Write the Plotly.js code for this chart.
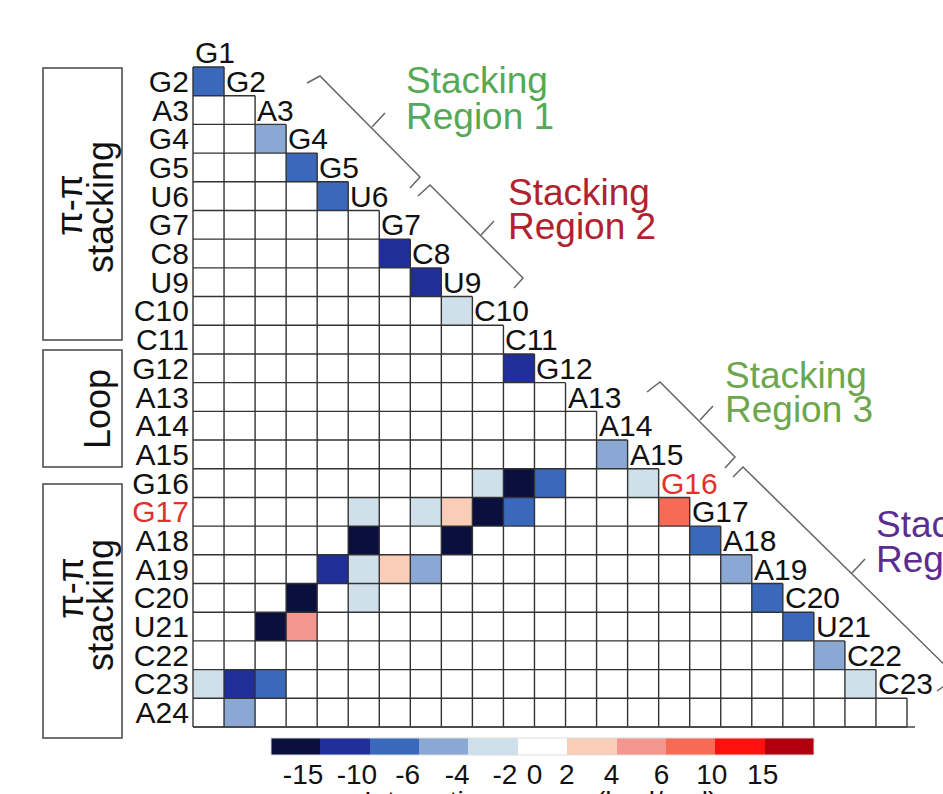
<!DOCTYPE html>
<html>
<head>
<meta charset="utf-8">
<script src="https://cdn.plot.ly/plotly-3.0.1.min.js"></script>
<style>html,body{margin:0;padding:0;background:#fff;}#chart{width:943px;height:794px;}</style>
</head>
<body>
<div id="chart"></div>
<script>
// ---------------- DATA ----------------
const columnNames = ["G1","G2","A3","G4","G5","U6","G7","C8","U9","C10","C11","G12","A13","A14","A15","G16","G17","A18","A19","C20","U21","C22","C23"];
const rowNames = ["G2","A3","G4","G5","U6","G7","C8","U9","C10","C11","G12","A13","A14","A15","G16","G17","A18","A19","C20","U21","C22","C23","A24"];
// non-zero interaction energies (kcal/mol): row, column, value
const pairRow    = ["G2","G4","G5","U6","C8","U9","C10","G12","A15","G16","G17","A18","A19","C20","U21","C22","C23",
                    "G16","G16","G16","G17","G17","G17","G17","G17","A18","A18","A19","A19","A19","A19","C20","C20","U21","U21","C23","C23","C23","A24"];
const pairCol    = ["G1","A3","G4","G5","G7","C8","U9","C11","A14","A15","G16","G17","A18","A19","C20","U21","C22",
                    "C10","C11","G12","U6","C8","U9","C10","C11","U6","U9","G5","U6","G7","C8","G4","U6","A3","G4","G1","G2","A3","G2"];
const pairEnergy = [-7.5,-4.6,-8.2,-7.9,-11.8,-12.3,-2.6,-12.5,-4.8,-2.8,7.5,-8.4,-5.1,-7.8,-8.1,-4.9,-2.5,
                    -2.7,-17.5,-7.6,-2.9,-2.6,2.8,-17.2,-8.0,-18.1,-17.4,-11.5,-2.8,2.9,-4.7,-17.8,-2.4,-18.3,5.2,-2.5,-12.1,-7.4,-4.8];
// colour classes of the legend
const classBounds = [-15,-10,-6,-4,-2,2,4,6,10,15];
const classColors = ["#0b0f3d","#1f2e98","#3a69bc","#8aa8d3","#cfe0ea","#ffffff","#f9cdb8","#f3968e","#f56b55","#fe1010","#b0000e"];
const legendLabels = ["-15","-10","-6","-4","-2","0","2","4","6","10","15"];
const legendLabelPos = [0.15,1.24,2.27,3.27,4.24,4.84,5.49,6.40,7.41,8.43,9.46];
const redRow = "G17", redCol = "G16";

// ---------------- HELPERS ----------------
const W = 943, H = 794;
const px = x => x / W;
const py = y => 1 - y / H;
const FONT = "Liberation Sans, Arial, Helvetica, sans-serif";
const classOf = v => classBounds.filter(t => v > t).length;

// build the lower-triangular matrix (row index r = 2..24, col index c = 1..23)
const nR = rowNames.length, nC = columnNames.length;
const z = [];
for (let i = 0; i < nR; i++) {
  const row = [];
  for (let j = 0; j < nC; j++) row.push(j <= i ? classOf(0) : null);
  z.push(row);
}
pairRow.forEach((r, k) => {
  const i = rowNames.indexOf(r), j = columnNames.indexOf(pairCol[k]);
  z[i][j] = classOf(pairEnergy[k]);
});
const xs = columnNames.map((_, j) => j + 1);
const ys = rowNames.map((_, i) => i + 2);

// stepped colourscale over class index
const nCls = classColors.length;
const cs = [];
classColors.forEach((c, k) => { cs.push([k / nCls, c]); cs.push([(k + 1) / nCls, c]); });

// grid lines along cell borders
const gx = [], gy = [];
for (let r = 2; r <= nR + 1; r++) { gx.push(0.5, r - 0.5, null); gy.push(r - 0.5, r - 0.5, null); }
gx.push(0.5, nC + 0.5, null); gy.push(nR + 1.5, nR + 1.5, null);
for (let k = 1; k <= nC + 1; k++) { gx.push(k - 0.5, k - 0.5, null); gy.push(Math.max(k - 0.5, 1.5), nR + 1.5, null); }

// geometry (pixels)
const cellW = (907 - 193) / nC, cellH = (727 - 67) / nR, pad = 0.1;
const xDom = [px(193 - pad * cellW), px(907 + pad * cellW)];
const yDom = [py(727 + pad * cellH), py(67 - cellH - pad * cellH)];

const traces = [
  {type: "heatmap", x: xs, y: ys, z: z, colorscale: cs, zmin: 0, zmax: nCls, showscale: false,
   hoverinfo: "skip", xaxis: "x", yaxis: "y"},
  {type: "scatter", mode: "lines", x: gx, y: gy, line: {color: "#333", width: 1.4},
   hoverinfo: "skip", showlegend: false, xaxis: "x", yaxis: "y"},
  {type: "heatmap", x: classColors.map((_, k) => k), y: [0], z: [classColors.map((_, k) => k + 0.5)],
   colorscale: cs, zmin: 0, zmax: nCls, showscale: false, hoverinfo: "skip", xaxis: "x2", yaxis: "y2"}
];

const ann = [];
columnNames.forEach((c, j) => {
  ann.push({xref: "x", yref: "y", x: j + 0.5, y: j + 1, xanchor: "left", yanchor: "middle", showarrow: false,
    text: c, font: {family: FONT, size: 30, color: c === redCol ? "#e3302b" : "#111"}});
});
function line(text, x, y, color, size) {
  ann.push({xref: "paper", yref: "paper", x: px(x), y: py(y), xanchor: "left", yanchor: "middle",
    showarrow: false, text: text, font: {family: FONT, size: size, color: color}});
}
line("Stacking", 404, 81, "#55a955", 37); line("Region 1", 404, 116, "#55a955", 37);
line("Stacking", 506, 192, "#b0222e", 37); line("Region 2", 506, 227, "#b0222e", 37);
line("Stacking", 723, 375, "#6ea64f", 37); line("Region 3", 723, 410, "#6ea64f", 37);
line("Stacking", 874, 524, "#5b2d90", 37); line("Region 4", 874, 559, "#5b2d90", 37);
function vtext(text, x, y) {
  ann.push({xref: "paper", yref: "paper", x: px(x), y: py(y), xanchor: "center", yanchor: "middle",
    showarrow: false, textangle: -90, text: text, font: {family: FONT, size: 36, color: "#111"}});
}
vtext("π-π", 70, 205); vtext("stacking", 100, 207);
vtext("Loop", 97, 409);
vtext("π-π", 70, 588); vtext("stacking", 100, 605);
ann.push({xref: "paper", yref: "paper", x: px(540), y: py(801), xanchor: "center", yanchor: "middle",
  showarrow: false, text: "Interaction energy (kcal/mol)", font: {family: FONT, size: 28, color: "#111"}});

const shapes = [];
function rect(x0, y0, x1, y1, col, w) {
  shapes.push({type: "rect", xref: "paper", yref: "paper", x0: px(x0), x1: px(x1), y0: py(y1), y1: py(y0),
    line: {color: col, width: w}});
}
rect(43, 68, 122, 340, "#444", 1.5);
rect(43, 350, 122, 467, "#444", 1.5);
rect(43, 484, 122, 738, "#444", 1.5);
rect(271, 738, 814, 755, "#dddddd", 1);
function path(pts, col) {
  const d = pts.map((p, i) => (i ? "L" : "M") + px(p[0]).toFixed(5) + "," + py(p[1]).toFixed(5)).join(" ");
  shapes.push({type: "path", xref: "paper", yref: "paper", path: d, line: {color: col, width: 1.5}});
}
const bc = "#666";
path([[307, 83], [320, 76], [420, 177], [410, 188]], bc); path([[372, 127], [385, 113]], bc);
path([[418, 196], [430, 185], [523, 278], [514, 288]], bc); path([[481, 235], [494, 221]], bc);
path([[647, 392], [660, 382], [735, 457], [725, 468]], bc); path([[700, 420], [713, 406]], bc);
path([[733, 477], [743, 467], [957, 677], [937, 691]], bc); path([[852, 573], [865, 559]], bc);
shapes.push({type: "line", xref: "paper", yref: "paper", x0: px(193), x1: px(915), y0: py(727), y1: py(727),
  line: {color: "#444", width: 1.4}});

const layout = {
  width: W, height: H, margin: {l: 0, r: 0, t: 0, b: 0}, paper_bgcolor: "#fff", plot_bgcolor: "rgba(0,0,0,0)",
  showlegend: false,
  xaxis: {domain: xDom, range: [0.5 - pad, nC + 0.5 + pad], showgrid: false, zeroline: false, showline: false,
    showticklabels: false, ticks: "", fixedrange: true},
  yaxis: {domain: yDom, range: [nR + 1.5 + pad, 0.5 - pad], showgrid: false, zeroline: false, showline: false,
    ticks: "", tickvals: ys,
    ticktext: rowNames.map(r => r === redRow ? '<span style="color:#e3302b">' + r + '</span>' : r),
    tickfont: {family: FONT, size: 30, color: "#111"}, fixedrange: true},
  xaxis2: {domain: [px(271), px(814)], range: [-0.5, nCls - 0.5], anchor: "y2", showgrid: false, zeroline: false,
    showline: false, ticks: "", tickvals: legendLabelPos, ticktext: legendLabels,
    tickfont: {family: FONT, size: 28, color: "#111"}, fixedrange: true},
  yaxis2: {domain: [py(755), py(738)], range: [-0.5, 0.5], anchor: "x2", showgrid: false, zeroline: false,
    showline: false, showticklabels: false, ticks: "", fixedrange: true},
  annotations: ann, shapes: shapes
};
Plotly.newPlot("chart", traces, layout, {displayModeBar: false, staticPlot: true});
</script>
</body>
</html>
